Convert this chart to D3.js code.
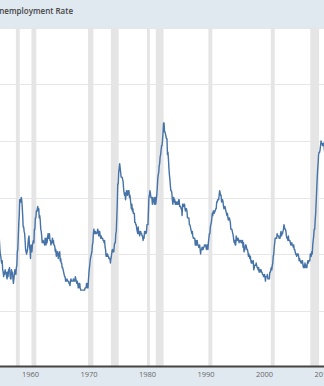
<!DOCTYPE html>
<html>
<head>
<meta charset="utf-8">
<script src="https://cdn.jsdelivr.net/npm/d3@7"></script>
<style>
  body { margin: 0; background: #fff; }
  svg { display: block; font-family: "Open Sans", sans-serif; }
</style>
</head>
<body>
<svg id="chart" width="324" height="386"></svg>
<script>
// Civilian unemployment rate, monthly, percent (Jan 1954 onward)
const firstMonth = "1954-01";
const unrate = [
  4.9,5.2,5.7,5.9,5.9,5.6,5.8,6.0,6.1,5.7,5.3,5.0,
  4.9,4.7,4.6,4.7,4.3,4.2,4.0,4.2,4.1,4.3,4.2,4.2,
  4.0,3.9,4.2,4.0,4.3,4.3,4.4,4.1,3.9,3.9,4.3,4.2,
  4.2,3.9,3.7,3.9,4.1,4.3,4.2,4.1,4.4,4.5,5.1,5.2,
  5.8,6.4,6.7,7.4,7.4,7.3,7.5,7.4,7.1,6.7,6.2,6.2,
  6.0,5.9,5.6,5.2,5.1,5.0,5.1,5.2,5.5,5.7,5.8,5.3,
  5.2,4.8,5.4,5.2,5.1,5.4,5.5,5.6,5.5,6.1,6.1,6.6,
  6.6,6.9,6.9,7.0,7.1,6.9,7.0,6.6,6.7,6.5,6.1,6.0,
  5.8,5.5,5.6,5.6,5.5,5.5,5.4,5.7,5.6,5.4,5.7,5.5,
  5.7,5.9,5.7,5.7,5.9,5.6,5.6,5.4,5.5,5.5,5.7,5.5,
  5.6,5.4,5.4,5.3,5.1,5.2,4.9,5.0,5.1,5.1,4.8,5.0,
  4.9,5.1,4.7,4.8,4.6,4.6,4.4,4.4,4.3,4.2,4.1,4.0,
  4.0,3.8,3.8,3.8,3.9,3.8,3.8,3.8,3.7,3.7,3.6,3.8,
  3.9,3.8,3.8,3.8,3.8,3.9,3.8,3.8,3.8,4.0,3.9,3.8,
  3.7,3.8,3.7,3.5,3.5,3.7,3.7,3.5,3.4,3.4,3.4,3.4,
  3.4,3.4,3.4,3.4,3.4,3.5,3.5,3.5,3.7,3.7,3.5,3.5,
  3.9,4.2,4.4,4.6,4.8,4.9,5.0,5.1,5.4,5.5,5.9,6.1,
  5.9,5.9,6.0,5.9,5.9,5.9,6.0,6.1,6.0,5.8,6.0,6.0,
  5.8,5.7,5.8,5.7,5.7,5.7,5.6,5.6,5.5,5.6,5.3,5.2,
  4.9,5.0,4.9,5.0,4.9,4.9,4.8,4.8,4.8,4.6,4.8,4.9,
  5.1,5.2,5.1,5.1,5.1,5.4,5.5,5.5,5.9,6.0,6.6,7.2,
  8.1,8.1,8.6,8.8,9.0,8.8,8.6,8.4,8.4,8.4,8.3,8.2,
  7.9,7.7,7.6,7.7,7.4,7.6,7.8,7.8,7.6,7.7,7.8,7.8,
  7.5,7.6,7.4,7.2,7.0,7.2,6.9,7.0,6.8,6.8,6.8,6.4,
  6.4,6.3,6.3,6.1,6.0,5.9,6.2,5.9,6.0,5.8,5.9,6.0,
  5.9,5.9,5.8,5.8,5.6,5.7,5.7,6.0,5.9,6.0,5.9,6.0,
  6.3,6.3,6.3,6.9,7.5,7.6,7.8,7.7,7.5,7.5,7.5,7.2,
  7.5,7.4,7.4,7.2,7.5,7.5,7.2,7.4,7.6,7.9,8.3,8.5,
  8.6,8.9,9.0,9.3,9.4,9.6,9.8,9.8,10.1,10.4,10.8,10.8,
  10.4,10.4,10.3,10.2,10.1,10.1,9.4,9.5,9.2,8.8,8.5,8.3,
  8.0,7.8,7.8,7.7,7.4,7.2,7.5,7.5,7.3,7.4,7.2,7.3,
  7.3,7.2,7.2,7.3,7.2,7.4,7.4,7.1,7.1,7.1,7.0,7.0,
  6.7,7.2,7.2,7.1,7.2,7.2,7.0,6.9,7.0,7.0,6.9,6.6,
  6.6,6.6,6.6,6.3,6.3,6.2,6.1,6.0,5.9,6.0,5.8,5.7,
  5.7,5.7,5.7,5.4,5.6,5.4,5.4,5.6,5.4,5.4,5.3,5.3,
  5.4,5.2,5.0,5.2,5.2,5.3,5.2,5.2,5.3,5.3,5.4,5.4,
  5.4,5.3,5.2,5.4,5.4,5.2,5.5,5.7,5.9,5.9,6.2,6.3,
  6.4,6.6,6.8,6.7,6.9,6.9,6.8,6.9,6.9,7.0,7.0,7.3,
  7.3,7.4,7.4,7.4,7.6,7.8,7.7,7.6,7.6,7.3,7.4,7.4,
  7.3,7.1,7.0,7.1,7.1,7.0,6.9,6.8,6.7,6.8,6.6,6.5,
  6.6,6.6,6.5,6.4,6.1,6.1,6.1,6.0,5.9,5.8,5.6,5.5,
  5.6,5.4,5.4,5.8,5.6,5.6,5.7,5.7,5.6,5.5,5.6,5.6,
  5.6,5.5,5.5,5.6,5.6,5.3,5.5,5.1,5.2,5.2,5.4,5.4,
  5.3,5.2,5.2,5.1,4.9,5.0,4.9,4.8,4.9,4.7,4.6,4.7,
  4.6,4.6,4.7,4.3,4.4,4.5,4.5,4.5,4.6,4.5,4.4,4.4,
  4.3,4.4,4.2,4.3,4.2,4.3,4.3,4.2,4.2,4.1,4.1,4.0,
  4.0,4.1,4.0,3.8,4.0,4.0,4.0,4.1,3.9,3.9,3.9,3.9,
  4.2,4.2,4.3,4.4,4.3,4.5,4.6,4.9,5.0,5.3,5.5,5.7,
  5.7,5.7,5.7,5.9,5.8,5.8,5.8,5.7,5.7,5.7,5.9,6.0,
  5.8,5.9,5.9,6.0,6.1,6.3,6.2,6.1,6.1,6.0,5.8,5.7,
  5.7,5.6,5.8,5.6,5.6,5.6,5.5,5.4,5.4,5.5,5.4,5.4,
  5.3,5.4,5.2,5.2,5.1,5.0,5.0,4.9,5.0,5.0,5.0,4.9,
  4.7,4.8,4.7,4.7,4.6,4.6,4.7,4.7,4.5,4.4,4.5,4.4,
  4.6,4.5,4.4,4.5,4.4,4.6,4.7,4.6,4.7,4.7,4.7,5.0,
  5.0,4.9,5.1,5.0,5.4,5.6,5.8,6.1,6.1,6.5,6.8,7.3,
  7.8,8.3,8.7,9.0,9.4,9.5,9.5,9.6,9.8,10.0,9.9,9.9,
  9.8,9.8,9.9,9.9,9.6,9.4,9.4,9.5,9.5,9.4,9.8,9.3
];

// NBER recessions (peak to trough)
const recessionStart = ["1953-07","1957-08","1960-04","1969-12","1973-11","1980-01","1981-07","1990-07","2001-03","2007-12"];
const recessionEnd   = ["1954-05","1958-04","1961-02","1970-11","1975-03","1980-07","1982-11","1991-03","2001-11","2009-06"];

const tickYears = [1960, 1970, 1980, 1990, 2000, 2010];
const gridValues = [0, 2.5, 5, 7.5, 10, 12.5, 15];

const width = 324, height = 386;
const plotTop = 28, plotBottom = 367;

const parseMonth = d3.timeParse("%Y-%m");
const start = parseMonth(firstMonth);
const series = unrate.map((v, i) => ({ date: d3.timeMonth.offset(start, i), value: v }));

const svg = d3.select("#chart");

const x = d3.scaleTime()
    .domain([new Date(1960, 0, 1), new Date(2010, 0, 1)])
    .range([30, 322.5]);

const y = d3.scaleLinear()
    .domain([0, 15])
    .range([plotBottom, plotTop]);

// header band with title
svg.append("rect")
    .attr("x", 0).attr("y", 0)
    .attr("width", width).attr("height", plotTop)
    .attr("fill", "#e1e9f0");

svg.append("text")
    .attr("x", 73)
    .attr("y", 13.5)
    .attr("text-anchor", "end")
    .attr("font-size", 8)
    .attr("font-weight", 600)
    .attr("fill", "#444")
    .text("Unemployment Rate");

// bottom band behind the axis labels
svg.append("rect")
    .attr("x", 0).attr("y", plotBottom)
    .attr("width", width).attr("height", height - plotBottom)
    .attr("fill", "#e1e9f0");

// horizontal grid
svg.append("g")
    .selectAll("line")
    .data(gridValues)
    .join("line")
    .attr("x1", 0).attr("x2", width)
    .attr("y1", d => Math.round(y(d)) + 0.5)
    .attr("y2", d => Math.round(y(d)) + 0.5)
    .attr("stroke", "#e6e6e6");

// recession shading
svg.append("g")
    .selectAll("rect")
    .data(recessionStart.map((s, i) => [parseMonth(s), parseMonth(recessionEnd[i])]))
    .join("rect")
    .attr("x", d => x(d[0]))
    .attr("y", plotTop)
    .attr("width", d => x(d[1]) - x(d[0]))
    .attr("height", plotBottom - plotTop)
    .attr("fill", "#e5e5e5");

// the series
const line = d3.line()
    .x(d => x(d.date))
    .y(d => y(d.value));

svg.append("path")
    .datum(series)
    .attr("d", line)
    .attr("fill", "none")
    .attr("stroke", "#4572a7")
    .attr("stroke-width", 1.4)
    .attr("stroke-linejoin", "round");

// x axis
const xAxis = d3.axisBottom(x)
    .tickValues(tickYears.map(yr => new Date(yr, 0, 1)))
    .tickFormat(d3.timeFormat("%Y"))
    .tickSize(0)
    .tickPadding(5);

const gx = svg.append("g")
    .attr("transform", `translate(0,${plotBottom})`)
    .call(xAxis);

gx.select(".domain").remove();
gx.selectAll("text")
    .attr("font-size", 7.5)
    .attr("font-family", "Open Sans, sans-serif")
    .attr("fill", "#666");

svg.append("line")
    .attr("x1", 0).attr("x2", width)
    .attr("y1", plotBottom - 0.5).attr("y2", plotBottom - 0.5)
    .attr("stroke", "#444")
    .attr("stroke-width", 2);
</script>
</body>
</html>
